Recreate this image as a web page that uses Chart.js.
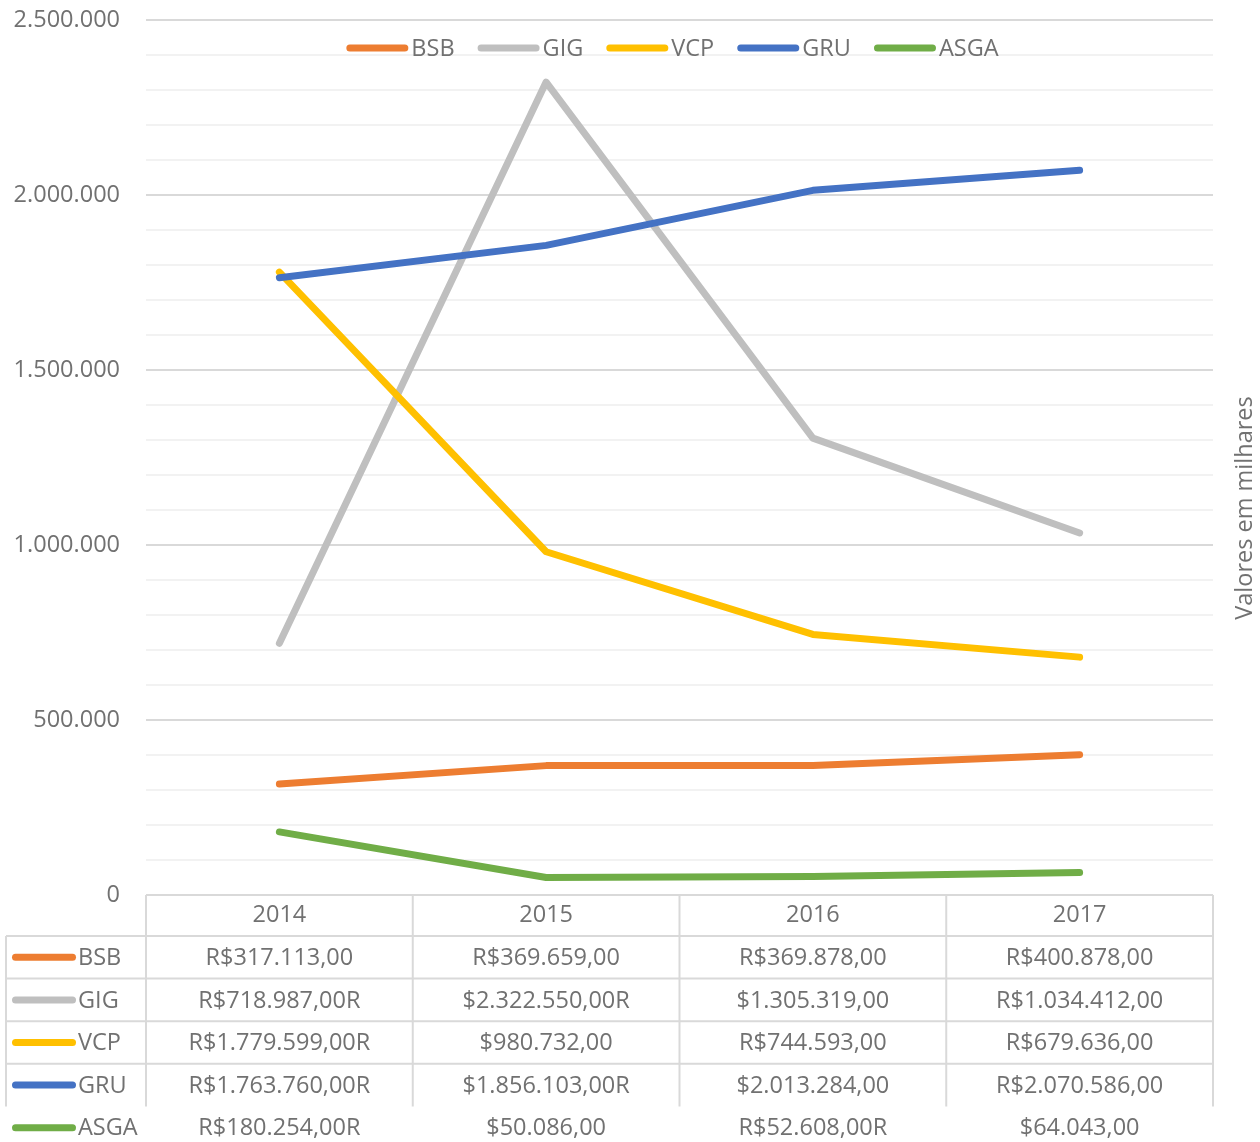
<!DOCTYPE html>
<html>
<head>
<meta charset="utf-8">
<script src="https://cdn.jsdelivr.net/npm/chart.js@4/dist/chart.umd.min.js"></script>
<style>
    html, body { margin: 0; padding: 0; background: #fff; }
    #wrap { width: 1260px; height: 1142px; position: relative; }
</style>
</head>
<body>
<div id="wrap"><canvas id="chart" width="1260" height="1142"></canvas></div>
<script>
// Data
const years = ['2014', '2015', '2016', '2017'];
const seriesNames = ['BSB', 'GIG', 'VCP', 'GRU', 'ASGA'];
const seriesColors = ['#ED7D31', '#BFBFBF', '#FFC000', '#4472C4', '#70AD47'];

const bsb = [317113, 369659, 369878, 400878];
const gig = [718987, 2322550, 1305319, 1034412];
const vcp = [1779599, 980732, 744593, 679636];
const gru = [1763760, 1856103, 2013284, 2070586];
const asga = [180254, 50086, 52608, 64043];

// table cell texts exactly as shown in the picture
const bsbText = ['R$317.113,00', 'R$369.659,00', 'R$369.878,00', 'R$400.878,00'];
const gigText = ['R$718.987,00R', '$2.322.550,00R', '$1.305.319,00', 'R$1.034.412,00'];
const vcpText = ['R$1.779.599,00R', '$980.732,00', 'R$744.593,00', 'R$679.636,00'];
const gruText = ['R$1.763.760,00R', '$1.856.103,00R', '$2.013.284,00', 'R$2.070.586,00'];
const asgaText = ['R$180.254,00R', '$50.086,00', 'R$52.608,00R', '$64.043,00'];

const yTicks = [0, 500000, 1000000, 1500000, 2000000, 2500000];
const yTitle = 'Valores em milhares';

const seriesValues = [bsb, gig, vcp, gru, asga];
const tableTexts = [bsbText, gigText, vcpText, gruText, asgaText];

const FONT = '"Open Sans", "Noto Sans", sans-serif';
const FONT_SIZE = 23.5;
const TEXT_COLOR = '#717171';
const GRID_MAJOR = '#D9D9D9';
const GRID_MINOR = '#F2F2F2';

function fmtThousands(v) {
    return String(v).replace(/\B(?=(\d{3})+(?!\d))/g, '.');
}

function legendLine(ctx, x, y, w, color) {
    ctx.save();
    ctx.strokeStyle = color;
    ctx.lineWidth = 7;
    ctx.lineCap = 'round';
    ctx.beginPath();
    ctx.moveTo(x + 3.5, y);
    ctx.lineTo(x + w - 3.5, y);
    ctx.stroke();
    ctx.restore();
}

// Legend drawn over the plot, near the top
const topLegend = {
    id: 'topLegend',
    afterDraw(chart) {
        const ctx = chart.ctx;
        const area = chart.chartArea;
        ctx.save();
        ctx.font = FONT_SIZE + 'px ' + FONT;
        const lineW = 62, gap = 3, spacing = 23;
        let total = 0;
        const widths = seriesNames.map(n => ctx.measureText(n).width);
        widths.forEach((w, i) => { total += lineW + gap + w + (i < widths.length - 1 ? spacing : 0); });
        let x = (area.left + area.right) / 2 - 7 - total / 2;
        const y = 48;
        ctx.textBaseline = 'middle';
        seriesNames.forEach((n, i) => {
            legendLine(ctx, x, y, lineW, seriesColors[i]);
            ctx.fillStyle = TEXT_COLOR;
            ctx.fillText(n, x + lineW + gap, y + 1);
            x += lineW + gap + widths[i] + spacing;
        });
        ctx.restore();
    }
};

// Data table under the plot plus the right-hand axis title
const dataTable = {
    id: 'dataTable',
    afterDraw(chart) {
        const ctx = chart.ctx;
        const area = chart.chartArea;
        const xs = chart.scales.x;
        const colW = (area.right - area.left) / years.length;
        const top = area.bottom;
        const headerH = 41;
        const rowH = 42.6;
        const linesBottom = top + headerH + rowH * 4;
        const legendLeft = 6;

        ctx.save();
        ctx.strokeStyle = GRID_MAJOR;
        ctx.lineWidth = 2;
        // horizontal lines
        ctx.beginPath();
        ctx.moveTo(area.left, top);
        ctx.lineTo(area.right, top);
        for (let r = 0; r < 4; r++) {
            const y = top + headerH + rowH * r;
            ctx.moveTo(legendLeft, y);
            ctx.lineTo(area.right, y);
        }
        // vertical lines
        for (let c = 0; c <= years.length; c++) {
            const x = area.left + colW * c;
            ctx.moveTo(x, top);
            ctx.lineTo(x, linesBottom);
        }
        ctx.moveTo(legendLeft, top + headerH);
        ctx.lineTo(legendLeft, linesBottom);
        ctx.stroke();

        ctx.font = FONT_SIZE + 'px ' + FONT;
        ctx.fillStyle = TEXT_COLOR;
        ctx.textBaseline = 'middle';
        ctx.textAlign = 'center';
        years.forEach((yr, i) => {
            ctx.fillText(yr, xs.getPixelForValue(i), top + headerH / 2);
        });
        seriesNames.forEach((n, r) => {
            const cy = top + headerH + rowH * r + rowH / 2;
            legendLine(ctx, 12, cy, 64, seriesColors[r]);
            ctx.fillStyle = TEXT_COLOR;
            ctx.textAlign = 'left';
            ctx.fillText(n, 78, cy + 1);
            ctx.textAlign = 'center';
            tableTexts[r].forEach((t, i) => {
                ctx.fillText(t, xs.getPixelForValue(i), cy + 1);
            });
        });

        // axis title on the right
        ctx.translate(1245, 508);
        ctx.rotate(-Math.PI / 2);
        ctx.textAlign = 'center';
        ctx.fillText(yTitle, 0, 0);
        ctx.restore();
    }
};

function initializeChart() {
    const datasets = seriesNames.map((name, i) => ({
        label: name,
        data: seriesValues[i],
        borderColor: seriesColors[i],
        backgroundColor: seriesColors[i],
        borderWidth: 7,
        borderCapStyle: 'round',
        borderJoinStyle: 'round',
        pointRadius: 0,
        tension: 0,
        order: seriesNames.length - i  // later series on top, like the original
    }));

    new Chart(document.getElementById('chart'), {
        type: 'line',
        data: { labels: years, datasets: datasets },
        options: {
            responsive: false,
            animation: false,
            layout: { padding: { top: 20, right: 47, left: 0, bottom: 0 } },
            plugins: {
                legend: { display: false },
                tooltip: { enabled: false }
            },
            scales: {
                x: {
                    offset: true,
                    grid: { display: false },
                    border: { display: false },
                    ticks: { display: false },
                    afterFit(s) { s.height = 247; }
                },
                y: {
                    min: 0,
                    max: 2500000,
                    afterBuildTicks(s) {
                        const t = [];
                        for (let v = 0; v <= 2500000; v += 100000) t.push({ value: v });
                        s.ticks = t;
                    },
                    afterFit(s) {
                        s.width = 146;
                        s.paddingTop = 0;
                        s.paddingBottom = 0;
                    },
                    border: { display: false },
                    grid: {
                        drawTicks: false,
                        lineWidth: 2,
                        color: c => (yTicks.includes(c.tick.value) ? GRID_MAJOR : GRID_MINOR)
                    },
                    ticks: {
                        padding: 26,
                        color: TEXT_COLOR,
                        font: { family: FONT, size: FONT_SIZE, lineHeight: 0.5 },
                        callback: v => (yTicks.includes(v) ? fmtThousands(v) : '')
                    }
                }
            }
        },
        plugins: [topLegend, dataTable]
    });
}

window.addEventListener('load', initializeChart);
</script>
</body>
</html>
